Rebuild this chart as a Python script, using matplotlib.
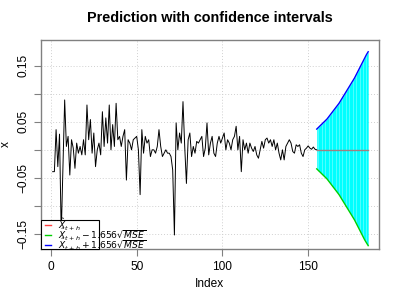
import numpy as np
import matplotlib
matplotlib.use("Agg")
import matplotlib.pyplot as plt
from matplotlib.patches import Rectangle
from matplotlib.lines import Line2D

plt.rcParams["font.family"] = ["Liberation Sans", "DejaVu Sans"]

series = [
    -0.039, -0.039, 0.036, -0.030, 0.028, -0.150, -0.030, 0.089, 0.006, 0.024,
    -0.045, 0.018, 0.003, -0.033, 0.012, -0.006, 0.006, -0.009, 0.018, -0.009,
    0.080, 0.018, 0.054, -0.006, 0.030, -0.030, 0.000, 0.012, -0.009, 0.068,
    0.006, 0.057, 0.012, 0.080, 0.000, 0.045, 0.006, 0.083, 0.018, 0.024,
    0.006, 0.024, 0.036, -0.054, 0.018, 0.012, 0.000, 0.018, 0.021, 0.024,
    0.000, -0.080, 0.036, -0.006, 0.024, 0.012, 0.018, -0.012, 0.000, 0.000,
    -0.006, 0.006, 0.036, 0.006, -0.012, -0.006, 0.000, -0.006, -0.006, -0.012,
    -0.036, -0.152, 0.048, 0.000, 0.030, 0.012, 0.086, 0.006, -0.060, 0.018,
    0.030, -0.012, 0.006, -0.006, 0.015, 0.012, 0.018, 0.024, -0.012, 0.003,
    0.048, -0.009, 0.012, 0.024, -0.006, -0.012, 0.012, 0.024,
    0.012, 0.021, 0.030, 0.000, 0.018, 0.012, 0.000, 0.018, 0.024, 0.042,
    0.000, 0.024, -0.039, 0.018, 0.000, 0.012, -0.006, 0.012, 0.003, -0.003,
    0.006, -0.009, -0.015, 0.000, 0.015, 0.003, 0.018, 0.021, 0.012, 0.018,
    0.006, 0.018, 0.000, 0.012, -0.006, -0.018, 0.000, -0.018, 0.006, 0.012,
    0.018, 0.012, -0.003, -0.006, 0.009, 0.006, 0.009, -0.006, -0.012, 0.000,
    0.003, 0.007, 0.003, 0.001, 0.005, 0.001, 0.000,
]

# forecast (h = 0..30)
pred = [0.0] * 31
upper = [
    0.037, 0.040, 0.043, 0.046, 0.049, 0.052, 0.055, 0.059, 0.063, 0.067,
    0.071, 0.075, 0.079, 0.083, 0.088, 0.093, 0.098, 0.103, 0.108, 0.113,
    0.118, 0.123, 0.128, 0.134, 0.140, 0.146, 0.152, 0.158, 0.164, 0.170, 0.175,
]
lower = [
    -0.034, -0.037, -0.040, -0.043, -0.046, -0.049, -0.052, -0.056, -0.060, -0.064,
    -0.068, -0.072, -0.076, -0.080, -0.085, -0.090, -0.095, -0.100, -0.105, -0.110,
    -0.115, -0.120, -0.125, -0.131, -0.137, -0.143, -0.149, -0.155, -0.161, -0.166, -0.171,
]

x = np.arange(1, len(series) + 1)
xf = np.arange(len(series), len(series) + len(pred))

fig = plt.figure(figsize=(4, 3), dpi=100)
ax = fig.add_axes([0.1025, 0.17, 0.845, 0.6967])

ax.set_xlim(-5.8, 191.3)
ax.set_ylim(-0.177, 0.196)

# grid
for g in [0, 50, 100, 150]:
    ax.axvline(g, color="#d0d0d0", lw=0.7, ls=(0, (1, 2)), zorder=0)
for g in np.arange(-0.15, 0.151, 0.05):
    ax.axhline(g, color="#d0d0d0", lw=0.7, ls=(0, (1, 2)), zorder=0)

ax.plot(x, series, color="black", lw=0.7, zorder=2)

ax.fill_between(xf, lower, upper, color="#00ffff", lw=0, zorder=1)
ax.vlines(xf[1:-1:2], lower[1:-1:2], upper[1:-1:2], color="#70ffff", lw=0.5, zorder=1)
ax.plot(xf, pred, color="#a08080", lw=1.0, zorder=2)
ax.plot(xf, upper, color="#0000ff", lw=1.0, zorder=2)
ax.plot(xf, lower, color="#00d000", lw=1.0, zorder=2)

for s in ax.spines.values():
    s.set_color("#808080")
    s.set_linewidth(1.0)

ax.set_xticks([0, 50, 100, 150])
ax.set_yticks([0.15, 0.10, 0.05, 0.0, -0.05, -0.10, -0.15])
ax.set_yticklabels(["0.15", "", "0.05", "", "\u22120.05", "", "\u22120.15"],
                   rotation=90, va="center")
ax.tick_params(axis="both", colors="#808080", labelcolor="black", labelsize=8.6,
               length=5, width=0.8)

ax.set_xlabel("Index", fontsize=8.6, labelpad=4)
ax.set_ylabel("x", fontsize=8.6, labelpad=4)
ax.set_title("Prediction with confidence intervals", fontsize=10.4,
             fontweight="bold", pad=13)

# legend box (text spills over the frame like in the original)
box = Rectangle((0, 0), 0.172, 0.139, transform=ax.transAxes, facecolor="white",
                edgecolor="black", lw=0.8, zorder=5, clip_on=False)
ax.add_patch(box)
labels = [r"$\hat{X}_{t+h}$", r"$\hat{X}_{t+h} - 1.656\sqrt{MSE}$",
          r"$\hat{X}_{t+h} + 1.656\sqrt{MSE}$"]
colors = ["#ff4040", "#00d000", "#0000ff"]
for i, (lab, c) in enumerate(zip(labels, colors)):
    yy = 0.113 - i * 0.047
    ax.add_line(Line2D([0.012, 0.03], [yy, yy], transform=ax.transAxes,
                       color=c, lw=1.0, zorder=6))
    ax.text(0.05, yy, lab, transform=ax.transAxes, fontsize=6.6, va="center",
            ha="left", zorder=7)

fig.savefig("out.png", dpi=100)
